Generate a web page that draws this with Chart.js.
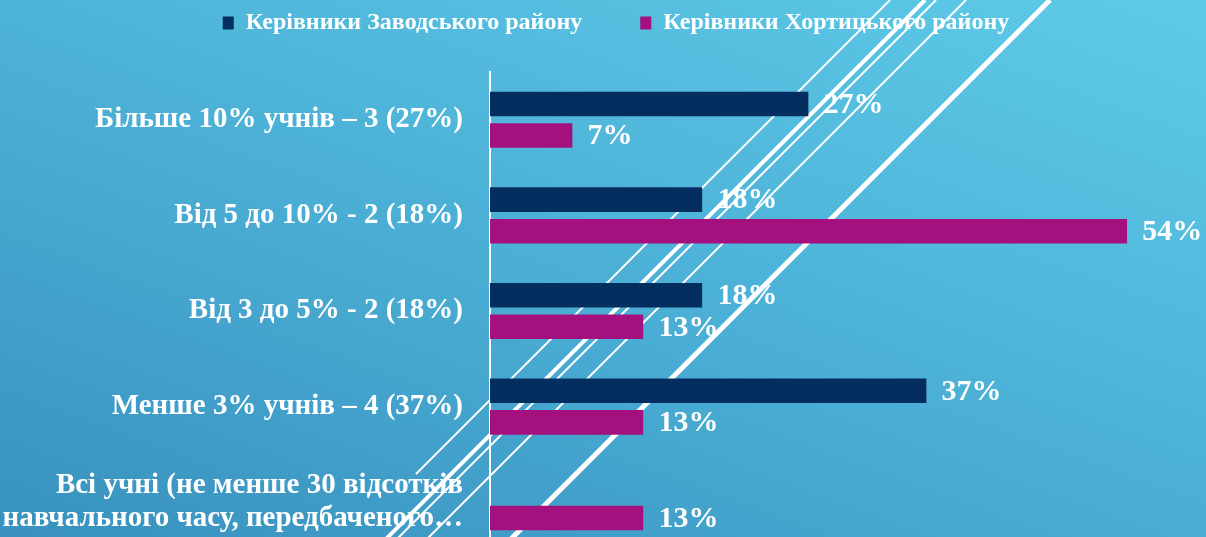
<!DOCTYPE html>
<html>
<head>
<meta charset="utf-8">
<script src="https://cdn.jsdelivr.net/npm/chart.js@4/dist/chart.umd.min.js"></script>
<style>
  html, body { margin: 0; padding: 0; overflow: hidden; }
  #wrap {
    width: 1206px; height: 537px; overflow: hidden; position: relative;
    background: linear-gradient(200deg, #5ecbe8 0%, #4cb0d6 50%, #3891be 100%);
  }
  #box { width: 1206px; height: 550px; position: absolute; left: 0; top: 0; }
</style>
</head>
<body>
<div id="wrap"><div id="box"><canvas id="barChart"></canvas></div></div>
<script>
var categories = [
    'Більше 10% учнів – 3 (27%)',
    'Від 5 до 10% - 2 (18%)',
    'Від 3 до 5% - 2 (18%)',
    'Менше 3% учнів – 4 (37%)',
    ['Всі учні (не менше 30 відсотків', 'навчального часу, передбаченого…']
];
var seriesNames = ['Керівники Заводського району', 'Керівники Хортицького району'];
var zavodskyi = [27, 18, 18, 37, null];
var khortytskyi = [7, 54, 13, 13, 13];
var seriesColors = ['#042d60', '#a5107f'];

// decorative diagonal stripes of the slide background
var stripes = [
    {x: 890, w: 2, y1: 0, y2: 474},
    {x: 925, w: 4, y1: 0, y2: 560},
    {x: 936, w: 2, y1: 0, y2: 560},
    {x: 966, w: 2, y1: 0, y2: 560},
    {x: 1050, w: 5, y1: 0, y2: 560}
];

var serif = '"Liberation Serif", "Times New Roman", serif';

var valueLabels = {
    id: 'valueLabels',
    beforeDatasetsDraw(chart) {
        var ctx = chart.ctx;
        ctx.save();
        ctx.fillStyle = '#ffffff';
        ctx.font = 'bold 30px ' + serif;
        ctx.textAlign = 'left';
        ctx.textBaseline = 'middle';
        chart.data.datasets.forEach((ds, i) => {
            chart.getDatasetMeta(i).data.forEach((bar, j) => {
                if (ds.data[j] == null) return;
                ctx.fillText(ds.data[j] + '%', bar.x + 15, bar.y + 1);
            });
        });
        ctx.strokeStyle = '#ffffff';
        stripes.forEach((s) => {
            ctx.lineWidth = s.w;
            ctx.beginPath();
            ctx.moveTo(s.x - s.y1, s.y1);
            ctx.lineTo(s.x - s.y2, s.y2);
            ctx.stroke();
        });
        ctx.restore();
    }
};

var legendSpace = {
    id: 'legendSpace',
    beforeInit(chart) {
        var fit = chart.legend.fit;
        chart.legend.fit = function () {
            fit.call(this);
            this.height = 72;
        };
    },
    afterLayout(chart) {
        chart.legend.top = -47;
        chart.legend.left += 17;
        chart.legend.right += 17;
    }
};

var ctx = document.getElementById('barChart');
new Chart(ctx, {
    type: 'bar',
    data: {
        labels: categories,
        datasets: [{
            label: seriesNames[0],
            data: zavodskyi,
            backgroundColor: seriesColors[0],
            borderColor: 'rgba(0,0,0,0)',
            borderWidth: {top: 3.5, bottom: 3.5, left: 0, right: 0},
            borderSkipped: false
        }, {
            label: seriesNames[1],
            data: khortytskyi,
            backgroundColor: seriesColors[1],
            borderColor: 'rgba(0,0,0,0)',
            borderWidth: {top: 3.5, bottom: 3.5, left: 0, right: 0},
            borderSkipped: false
        }]
    },
    options: {
        indexAxis: 'y',
        responsive: true,
        maintainAspectRatio: false,
        animation: false,
        categoryPercentage: 0.66,
        barPercentage: 1,
        layout: { padding: {top: 0, right: 8, bottom: 0, left: 0} },
        scales: {
            x: { display: false, min: 0, max: 60 },
            y: {
                grid: { display: false, drawTicks: false },
                border: { color: '#ffffff', width: 2 },
                ticks: {
                    color: '#ffffff',
                    padding: 27,
                    font: { family: serif, size: 29, weight: 'bold', lineHeight: 1.12 }
                },
                afterFit(scale) {
                    scale.width = 490;
                    scale.paddingTop = 0;
                    scale.paddingBottom = 0;
                }
            }
        },
        plugins: {
            legend: {
                position: 'top',
                labels: {
                    color: '#ffffff',
                    boxWidth: 11,
                    boxHeight: 13,
                    padding: 58,
                    font: { family: serif, size: 24, weight: 'bold' }
                }
            },
            tooltip: { enabled: false }
        }
    },
    plugins: [valueLabels, legendSpace]
});
</script>
</body>
</html>
